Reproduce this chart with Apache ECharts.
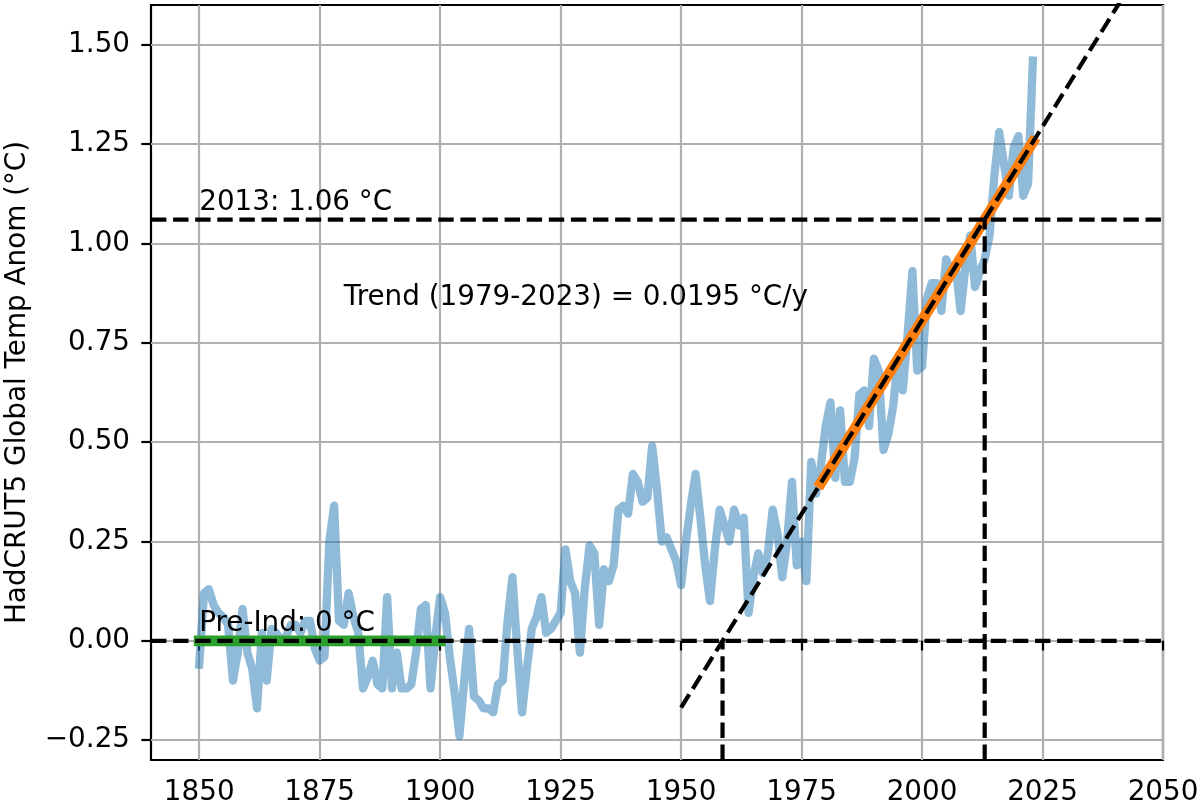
<!DOCTYPE html>
<html lang="en">
<head>
<meta charset="UTF-8">
<title>HadCRUT5 Global Temp Anom</title>
<style>
  html, body { margin: 0; padding: 0; background: #fff; }
  #chart { width: 1200px; height: 806px; }
</style>
</head>
<body>
<div id="chart"></div>
<script src="https://cdn.jsdelivr.net/npm/echarts@6/dist/echarts.min.js"></script>
<script>
  // annual anomaly vs 1850-1900 (degC), one row per decade
  const firstYear = 1850;
  const anom = [
    -0.06, 0.12, 0.13, 0.09, 0.07, 0.06, 0.04, -0.10, -0.03, 0.08,
    -0.03, -0.07, -0.17, 0.02, -0.10, 0.03, 0.02, 0.00, 0.01, 0.04,
    0.04, 0.02, 0.05, 0.05, -0.02, -0.05, -0.04, 0.25, 0.34, 0.05,
    0.04, 0.12, 0.06, 0.02, -0.12, -0.09, -0.05, -0.11, -0.12, 0.11,
    -0.12, -0.03, -0.12, -0.12, -0.11, -0.03, 0.08, 0.09, -0.12, 0.01,
    0.11, 0.07, -0.04, -0.13, -0.24, -0.10, 0.03, -0.14, -0.15, -0.17,
    -0.17, -0.18, -0.11, -0.10, 0.05, 0.16, -0.02, -0.18, -0.07, 0.03,
    0.06, 0.11, 0.02, 0.03, 0.05, 0.07, 0.23, 0.15, 0.12, -0.03,
    0.13, 0.24, 0.22, 0.04, 0.18, 0.15, 0.19, 0.33, 0.34, 0.32,
    0.42, 0.40, 0.35, 0.36, 0.49, 0.38, 0.25, 0.26, 0.23, 0.20,
    0.14, 0.25, 0.34, 0.42, 0.31, 0.19, 0.10, 0.23, 0.33, 0.29,
    0.25, 0.33, 0.29, 0.31, 0.07, 0.16, 0.22, 0.17, 0.22, 0.33,
    0.27, 0.16, 0.25, 0.40, 0.19, 0.25, 0.15, 0.45, 0.37, 0.44,
    0.54, 0.60, 0.41, 0.58, 0.40, 0.40, 0.46, 0.62, 0.63, 0.54,
    0.71, 0.68, 0.48, 0.52, 0.59, 0.71, 0.63, 0.77, 0.93, 0.68,
    0.69, 0.86, 0.90, 0.90, 0.83, 0.96, 0.93, 0.94, 0.83, 0.94,
    1.02, 0.89, 0.93, 0.96, 1.02, 1.17, 1.28, 1.20, 1.12, 1.24,
    1.27, 1.12, 1.15, 1.46
  ];

  const xTicks = [1850, 1875, 1900, 1925, 1950, 1975, 2000, 2025, 2050];
  const yTicks = [-0.25, 0, 0.25, 0.5, 0.75, 1.0, 1.25, 1.5];

  // pre-industrial baseline segment
  const preIndYears = [1850, 1900];
  const preIndVals = [0, 0];

  // fitted trend 1979-2023 and its dashed extension
  const trendYears = [1979, 2023];
  const trendVals = [0.397, 1.255];
  const extYears = [1950, 2041];
  const extVals = [-0.168, 1.606];

  // where the trend crosses 0 and the 2013 level
  const zeroYear = 1958.6;
  const crossYear = 2013;
  const crossVal = 1.06;

  const notes = [
    { text: '2013: 1.06 °C', x: 1850, y: 1.08 },
    { text: 'Trend (1979-2023) = 0.0195 °C/y', x: 1880, y: 0.84 },
    { text: 'Pre-Ind: 0 °C', x: 1850, y: 0.02 }
  ];

  const xMin = 1840, xMax = 2050, yMin = -0.3, yMax = 1.6;
  const FONT = 'DejaVu Sans';
  const FS = 27.8;

  const pairs = (xs, ys) => xs.map((x, i) => [x, ys[i]]);
  const obs = anom.map((v, i) => [firstYear + i, v]);

  const dashed = { color: '#000', width: 4.2, type: [15.4, 6.7], cap: 'butt' };

  function dashLine(data) {
    return {
      type: 'line', data: data, showSymbol: false, silent: true, z: 5,
      lineStyle: dashed
    };
  }

  const chart = echarts.init(document.getElementById('chart'));

  chart.setOption({
    animation: false,
    backgroundColor: '#fff',
    grid: {
      left: 151, right: 37, top: 5, bottom: 46,
      show: true, borderColor: '#000', borderWidth: 2.2,
      backgroundColor: 'transparent',
      containLabel: false, outerBoundsMode: 'none'
    },
    xAxis: {
      type: 'value', min: xMin, max: xMax,
      axisLine: { show: false },
      axisTick: { show: true, customValues: xTicks, length: 9.7, lineStyle: { color: '#000', width: 2.2 } },
      axisLabel: {
        customValues: xTicks, color: '#000', fontFamily: FONT, fontSize: FS, margin: 19,
        formatter: v => String(v)
      },
      splitLine: { show: true, lineStyle: { color: '#b0b0b0', width: 2.2 } }
    },
    yAxis: {
      type: 'value', min: yMin, max: yMax,
      name: 'HadCRUT5 Global Temp Anom (°C)',
      nameLocation: 'middle', nameGap: 119, nameRotate: 90,
      nameTextStyle: { color: '#000', fontFamily: FONT, fontSize: FS },
      axisLine: { show: false },
      axisTick: { show: true, customValues: yTicks, length: 9.7, lineStyle: { color: '#000', width: 2.2 } },
      axisLabel: {
        customValues: yTicks, color: '#000', fontFamily: FONT, fontSize: FS, margin: 21,
        formatter: v => (v < 0 ? '\u2212' + Math.abs(v).toFixed(2) : v.toFixed(2))
      },
      splitLine: { show: true, lineStyle: { color: '#b0b0b0', width: 2.2 } }
    },
    series: [
      {
        name: 'HadCRUT5', type: 'line', data: obs, showSymbol: false, silent: true, z: 2,
        lineStyle: { color: '#1f77b4', width: 8.3, opacity: 0.5, cap: 'square', join: 'round' }
      },
      {
        name: 'Pre-Ind', type: 'line', data: pairs(preIndYears, preIndVals), showSymbol: false, silent: true, z: 3,
        lineStyle: { color: '#2ca02c', width: 10.8, cap: 'square' }
      },
      dashLine([[xMin, 0], [xMax, 0]]),
      {
        name: 'Trend', type: 'line', data: pairs(trendYears, trendVals), showSymbol: false, silent: true, z: 4,
        lineStyle: { color: '#ff7f0e', width: 10.8, cap: 'square' }
      },
      dashLine(pairs(extYears, extVals)),
      dashLine([[xMin, crossVal], [xMax, crossVal]]),
      dashLine([[zeroYear, yMin], [zeroYear, 0]]),
      dashLine([[crossYear, yMin], [crossYear, crossVal]])
    ]
  });

  // annotations placed through the chart's own coordinate system
  const texts = notes.map(n => {
    const p = chart.convertToPixel({ gridIndex: 0 }, [n.x, n.y]);
    return {
      type: 'text', x: p[0], y: p[1] + 5, z: 100, silent: true,
      style: { text: n.text, fill: '#000', fontFamily: FONT, fontSize: FS, verticalAlign: 'bottom', align: 'left' }
    };
  });
  chart.setOption({ graphic: texts });
</script>
</body>
</html>
